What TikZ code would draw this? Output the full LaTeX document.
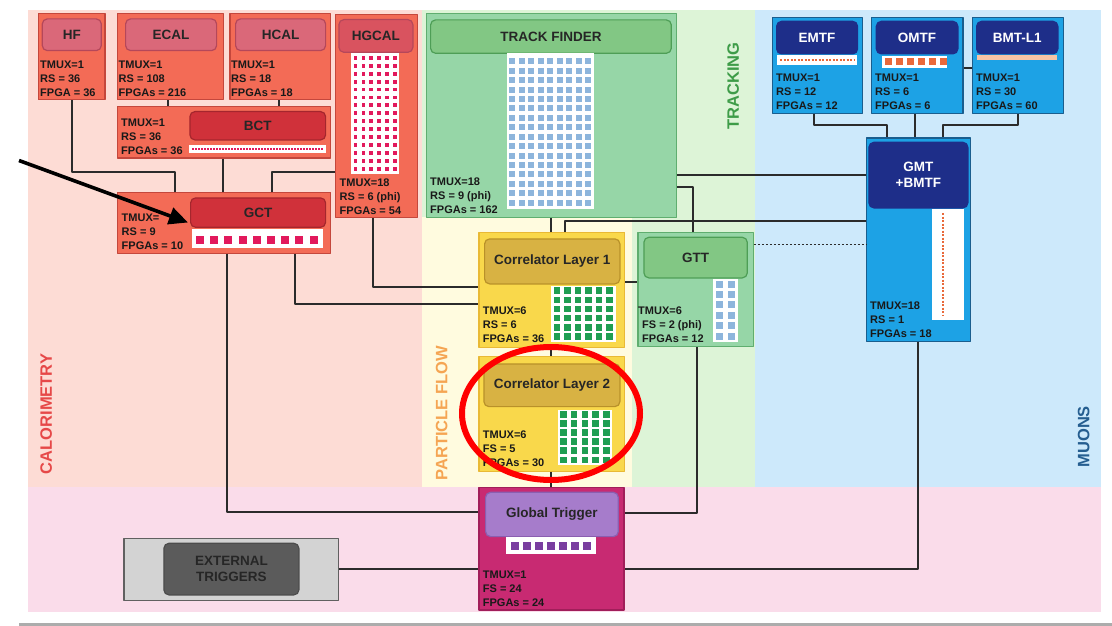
\documentclass[tikz,border=0pt]{standalone}
\usepackage{fontspec}
\setmainfont{Liberation Sans}
\usetikzlibrary{arrows.meta}

\definecolor{calobg}{HTML}{FDDCD5}
\definecolor{trackbg}{HTML}{DDF4D7}
\definecolor{pfbg}{HTML}{FFFBDF}
\definecolor{muonbg}{HTML}{CDE9FB}
\definecolor{gtbg}{HTML}{FADCEA}
\definecolor{calofill}{HTML}{F36B56}
\definecolor{caloedge}{HTML}{C4473C}
\definecolor{calohead}{HTML}{DA6879}
\definecolor{caloheadedge}{HTML}{B5475A}
\definecolor{hgcalhead}{HTML}{D9535F}
\definecolor{calodark}{HTML}{D0313A}
\definecolor{calodarkedge}{HTML}{A5262D}
\definecolor{calodot}{HTML}{E2195C}
\definecolor{trkfill}{HTML}{96D6A7}
\definecolor{trkedge}{HTML}{5FAE6F}
\definecolor{trkhead}{HTML}{82C784}
\definecolor{trkheadedge}{HTML}{4E9E56}
\definecolor{trkdot}{HTML}{8DB5DC}
\definecolor{pffill}{HTML}{F9D84B}
\definecolor{pfedge}{HTML}{E9B935}
\definecolor{pfhead}{HTML}{D8B243}
\definecolor{pfheadedge}{HTML}{B99129}
\definecolor{pfdot}{HTML}{1F9E52}
\definecolor{gtfill}{HTML}{C82A72}
\definecolor{gtedge}{HTML}{A11E5A}
\definecolor{gthead}{HTML}{A67CCB}
\definecolor{gtheadedge}{HTML}{8B5EB0}
\definecolor{gtdot}{HTML}{7A3EA0}
\definecolor{mufill}{HTML}{1DA2E5}
\definecolor{muedge}{HTML}{1A5E8E}
\definecolor{muhead}{HTML}{1E2E89}
\definecolor{mudot}{HTML}{E9693B}
\definecolor{mupeach}{HTML}{F7C4A5}
\definecolor{extfill}{HTML}{D3D3D3}
\definecolor{extinner}{HTML}{5B5B5B}
\definecolor{wirecol}{HTML}{2B2B2B}
\definecolor{calolabel}{HTML}{E64848}
\definecolor{pflabel}{HTML}{F5A553}
\definecolor{trklabel}{HTML}{3E9C48}
\definecolor{mulabel}{HTML}{255E90}

\tikzset{
  blk/.style={draw, line width=1.2pt, inner sep=0pt, anchor=north west},
  dims/.style 2 args={minimum width=#1pt, minimum height=#2pt},
  head/.style={blk, rounded corners=5pt, font=\fontsize{13.5}{16}\selectfont\bfseries, text=black!85, align=center},
  calobox/.style={blk, draw=caloedge, fill=calofill},
  trkbox/.style={blk, draw=trkedge, fill=trkfill},
  pfbox/.style={blk, draw=pfedge, fill=pffill},
  mubox/.style={blk, draw=muedge, fill=mufill},
  stats/.style={anchor=north west, inner sep=0pt, align=left, font=\fontsize{11}{14}\selectfont\bfseries, text=black!90},
  wire/.style={draw=wirecol, line width=2pt},
  regionlabel/.style={rotate=90, font=\fontsize{16.5}{18}\selectfont\bfseries},
}

\begin{document}
\begin{tikzpicture}[x=1pt, y=-1pt, line join=round]
  \useasboundingbox (0,0) rectangle (1112,626);
  \fill[white] (0,0) rectangle (1112,626);

  % regions
  \fill[calobg] (28,10) rectangle (422,487);
  \fill[trackbg] (422,10) rectangle (755,487);
  \fill[pfbg] (422,217) rectangle (632,487);
  \fill[muonbg] (755,10) rectangle (1101,487);
  \fill[gtbg] (28,487) rectangle (1101,612);
  \fill[gray!65] (19,622.5) rectangle (1112,626);

  \node[regionlabel, text=calolabel] (calolbl) at (46.3,414) {CALORIMETRY};
  \node[regionlabel, text=pflabel] (pflbl) at (441.7,413.3) {PARTICLE FLOW};
  \node[regionlabel, text=trklabel] (trklbl) at (733.3,85.8) {TRACKING};
  \node[regionlabel, text=mulabel] (mulbl) at (1083.7,436.7) {MUONS};

  % calorimetry
  \node[calobox, dims={66.6}{86}] (hf) at (37.7,13.3) {};
  \node[calobox, dims={106}{86}] (ecal) at (116.7,13.3) {};
  \node[calobox, dims={100.7}{86}] (hcal) at (229.3,13.3) {};
  \node[calobox, dims={213.3}{51.3}] (bct) at (116.7,106) {};
  \node[calobox, dims={213.3}{61}] (gct) at (116.7,191.7) {};
  \node[calobox, dims={82}{202.7}] (hgcal) at (335,14) {};

  \node[head, fill=calohead, draw=caloheadedge, dims={59}{31.7}] (hfhead) at (41.7,18.3) {HF};
  \node[head, fill=calohead, draw=caloheadedge, dims={91}{31.7}] (ecalhead) at (125,18.3) {ECAL};
  \node[head, fill=calohead, draw=caloheadedge, dims={90}{31.7}] (hcalhead) at (235,18.3) {HCAL};
  \node[head, fill=calodark, draw=calodarkedge, dims={135.7}{28.3}] (bcthead) at (189.3,111) {BCT};
  \node[head, fill=calodark, draw=calodarkedge, dims={135}{29.4}] (gcthead) at (190,197.3) {GCT};
  \node[head, fill=hgcalhead, draw=caloheadedge, dims={74}{32.7}] (hgcalhead) at (338.3,19) {HGCAL};

  \fill[white] (350.7,53.3) rectangle (399.3,174);
  \foreach \i in {0,...,5}
    \foreach \j in {0,...,14}
      \fill[calodot] ({353.6+7.9*\i},{56.1+7.9*\j}) rectangle ++(3.8,3.8);
  \fill[white] (189.3,145) rectangle (326,152.7);
  \draw[calodot, line width=2.4pt, dash pattern=on 1.6pt off 1.4pt] (192,148.9) -- (323,148.9);
  \fill[white] (191.7,228.5) rectangle (323.3,248.3);
  \foreach \i in {0,...,8}
    \fill[calodot] ({196+14.2*\i},236) rectangle ++(8,8);

  \node[stats] (hfstats) at (40,60.5) {TMUX=1\\RS = 36\\FPGA = 36};
  \node[stats] (ecalstats) at (118.5,60.5) {TMUX=1\\RS = 108\\FPGAs = 216};
  \node[stats] (hcalstats) at (231,60.5) {TMUX=1\\RS = 18\\FPGAs = 18};
  \node[stats] (bctstats) at (121,119) {TMUX=1\\RS = 36\\FPGAs = 36};
  \node[stats] (gctstats) at (121.5,213.5) {TMUX=\\RS = 9\\FPGAs = 10};
  \node[stats] (hgcalstats) at (339.5,179) {TMUX=18\\RS = 6 (phi)\\FPGAs = 54};

  % tracking and particle flow
  \node[trkbox, dims={250.3}{203.4}] (tf) at (425.7,13.3) {};
  \node[head, fill=trkhead, draw=trkheadedge, dims={240.7}{33.4}] (tfhead) at (430,19.3) {TRACK FINDER};
  \fill[white] (506.7,53.3) rectangle (594.3,209);
  \foreach \i in {0,...,8}
    \foreach \j in {0,...,15}
      \fill[trkdot] ({509+9.5*\i},{58.5+9.4*\j}) rectangle ++(6,6);
  \node[stats] (tfstats) at (430,178) {TMUX=18\\RS = 9 (phi)\\FPGAs = 162};

  \node[trkbox, dims={115.4}{114.3}] (gtt) at (637.3,231.7) {};
  \node[head, fill=trkhead, draw=trkheadedge, dims={103.4}{40.6}] (gtthead) at (643.3,236.7) {GTT};
  \fill[white] (712.7,279) rectangle (738,342);
  \foreach \i in {0,1}
    \foreach \j in {0,...,5}
      \fill[trkdot] ({715.5+12.7*\i},{280.5+10.4*\j}) rectangle ++(7,7);
  \node[stats] (gttstats) at (638,306.3) {TMUX=6\\\hspace*{4pt}FS = 2 (phi)\\\hspace*{4pt}FPGAs = 12};

  \node[pfbox, dims={145.7}{115}] (cl1) at (478.3,231.7) {};
  \node[head, fill=pfhead, draw=pfheadedge, dims={135.3}{45}] (cl1head) at (484,238.3) {Correlator Layer 1};
  \fill[white] (551,286) rectangle (616,341.5);
  \foreach \i in {0,...,5}
    \foreach \j in {0,...,5}
      \fill[pfdot] ({553.5+10.5*\i},{287.3+9.2*\j}) rectangle ++(6.5,6.5);
  \node[stats] (cl1stats) at (482.7,307) {TMUX=6\\RS = 6\\FPGAs = 36};

  \node[pfbox, dims={145.7}{114.7}] (cl2) at (478.3,356) {};
  \node[head, fill=pfhead, draw=pfheadedge, dims={136}{42.7}] (cl2head) at (483.3,363.3) {Correlator Layer 2};
  \fill[white] (557.7,410) rectangle (612.3,465);
  \foreach \i in {0,...,4}
    \foreach \j in {0,...,5}
      \fill[pfdot] ({560+10.8*\i},{411+9.1*\j}) rectangle ++(6.5,6.5);
  \node[stats] (cl2stats) at (482.7,431) {TMUX=6\\FS = 5\\FPGAs = 30};

  % global trigger
  \node[blk, draw=gtedge, fill=gtfill, dims={145}{122.6}] (gt) at (478.3,486.7) {};
  \node[head, fill=gthead, draw=gtheadedge, dims={132.7}{44.3}] (gthead) at (485,491.7) {Global Trigger};
  \fill[white] (506,537) rectangle (596,554.3);
  \foreach \i in {0,...,6}
    \fill[gtdot] ({511+11.95*\i},542) rectangle ++(8,8);
  \node[stats] (gtstats) at (482.7,570.5) {TMUX=1\\FS = 24\\FPGAs = 24};

  \node[blk, draw=gray!75!black, fill=extfill, dims={214.4}{62.3}] (ext) at (123.3,537.7) {};
  \node[head, fill=extinner, draw=black!70, text=black!85, dims={135}{51.6}] (exthead) at (163.3,542.7) {EXTERNAL\\TRIGGERS};

  % muons
  \node[mubox, dims={90}{95.7}] (emtf) at (771.7,17) {};
  \node[mubox, dims={91.3}{95.7}] (omtf) at (871,17) {};
  \node[mubox, dims={91}{95.7}] (bmtl1) at (971.7,17) {};
  \node[mubox, dims={104}{203.4}] (gmt) at (866,137.3) {};
  \node[head, fill=muhead, draw=muhead, text=white, dims={81}{32.6}] (emtfhead) at (776,20.7) {EMTF};
  \node[head, fill=muhead, draw=muhead, text=white, dims={81.6}{32.6}] (omtfhead) at (875.7,20.7) {OMTF};
  \node[head, fill=muhead, draw=muhead, text=white, dims={81.3}{32.6}] (bmthead) at (976,20.7) {BMT-L1};
  \node[head, fill=muhead, draw=muhead, text=white, dims={99}{65.6}] (gmthead) at (868.3,141.7) {GMT\\+BMTF};

  \fill[white] (777,55) rectangle (857,65);
  \draw[mudot, line width=2.6pt, dash pattern=on 2pt off 1.5pt] (780,60) -- (854,60);
  \fill[white] (882,56) rectangle (947,68.3);
  \foreach \i in {0,...,5}
    \fill[mudot] ({884.5+11*\i},58.5) rectangle ++(7,7);
  \fill[mupeach] (977,55) rectangle (1057,60);
  \fill[white] (932,209) rectangle (964,320);
  \draw[mudot, line width=2.6pt, dash pattern=on 2pt off 1.5pt] (943,213) -- (943,316);

  \node[stats] (emtfstats) at (776,73.5) {TMUX=1\\RS = 12\\FPGAs = 12};
  \node[stats] (omtfstats) at (875,73.5) {TMUX=1\\RS = 6\\FPGAs = 6};
  \node[stats] (bmtstats) at (976,73.5) {TMUX=1\\RS = 30\\FPGAs = 60};
  \node[stats] (gmtstats) at (870,302) {TMUX=18\\RS = 1\\FPGAs = 18};

  % connections
  \draw[wire] (hf.south) |- (175,172.3) -- (gct.north -| 175,0);
  \draw[wire] (ecal.south -| 168.3,0) -- (bct.north -| 168.3,0);
  \draw[wire] (hcal.south -| 279.3,0) -- (bct.north -| 279.3,0);
  \draw[wire] (bct.south -| 223.3,0) -- (gct.north -| 223.3,0);
  \draw[wire] (hgcal.west |- 0,172) -| (gct.north -| 272.3,0);
  \draw[wire] (hgcal.south -| 373.3,0) |- (cl1.west |- 0,286.7);
  \draw[wire] (gct.south -| 295,0) |- (cl1.west |- 0,304);
  \draw[wire] (gct.south -| 226.7,0) |- (gt.west |- 0,511.7);
  \draw[wire] (ext.east) -- (gt.west |- ext.east);
  \draw[wire] (tf.south -| 550.7,0) -- (cl1.north -| 550.7,0);
  \draw[wire] (gmt.west |- 0,220.5) -| (cl1.north -| 565.3,0);
  \draw[wire] (tf.east |- 0,175) -- (gmt.west |- 0,175);
  \draw[wire] (tf.east |- 0,186.7) -| (gtt.north -| 693.3,0);
  \draw[wire, line width=1.4pt, dash pattern=on 2pt off 2pt] (gtt.east |- 0,244.3) -- (gmt.west |- 0,244.3);
  \draw[wire] (cl1.east |- 0,281.7) -- (gtt.west |- 0,281.7);
  \draw[wire] (cl1.south -| 551,0) -- (cl2.north -| 551,0);
  \draw[wire] (cl2.south -| 551,0) -- (gt.north -| 551,0);
  \draw[wire] (gtt.south -| 696.7,0) |- (gt.east |- 0,512.7);
  \draw[wire] (gmt.south -| 918.3,0) |- (gt.east |- 0,569.3);
  \draw[wire] (emtf.south -| 814.3,0) |- (886.7,125) -- (gmt.north -| 886.7,0);
  \draw[wire] (omtf.south -| 915,0) -- (gmt.north -| 915,0);
  \draw[wire] (bmtl1.south -| 1017.7,0) |- (943.3,125) -- (gmt.north -| 943.3,0);
  \draw[wire] (omtf.east |- 0,68) -- (bmtl1.west |- 0,68);

  % pointer and highlight
  \coordinate (arrowtail) at (19,160.5);
  \coordinate (arrowtip) at (188,222.5);
  \draw[line width=3.6pt, -{Triangle[length=19pt,width=17pt]}] (arrowtail) -- (arrowtip);
  \draw[red, line width=6pt] (551,413.5) ellipse [x radius=89pt, y radius=66.5pt];
\end{tikzpicture}
\end{document}
